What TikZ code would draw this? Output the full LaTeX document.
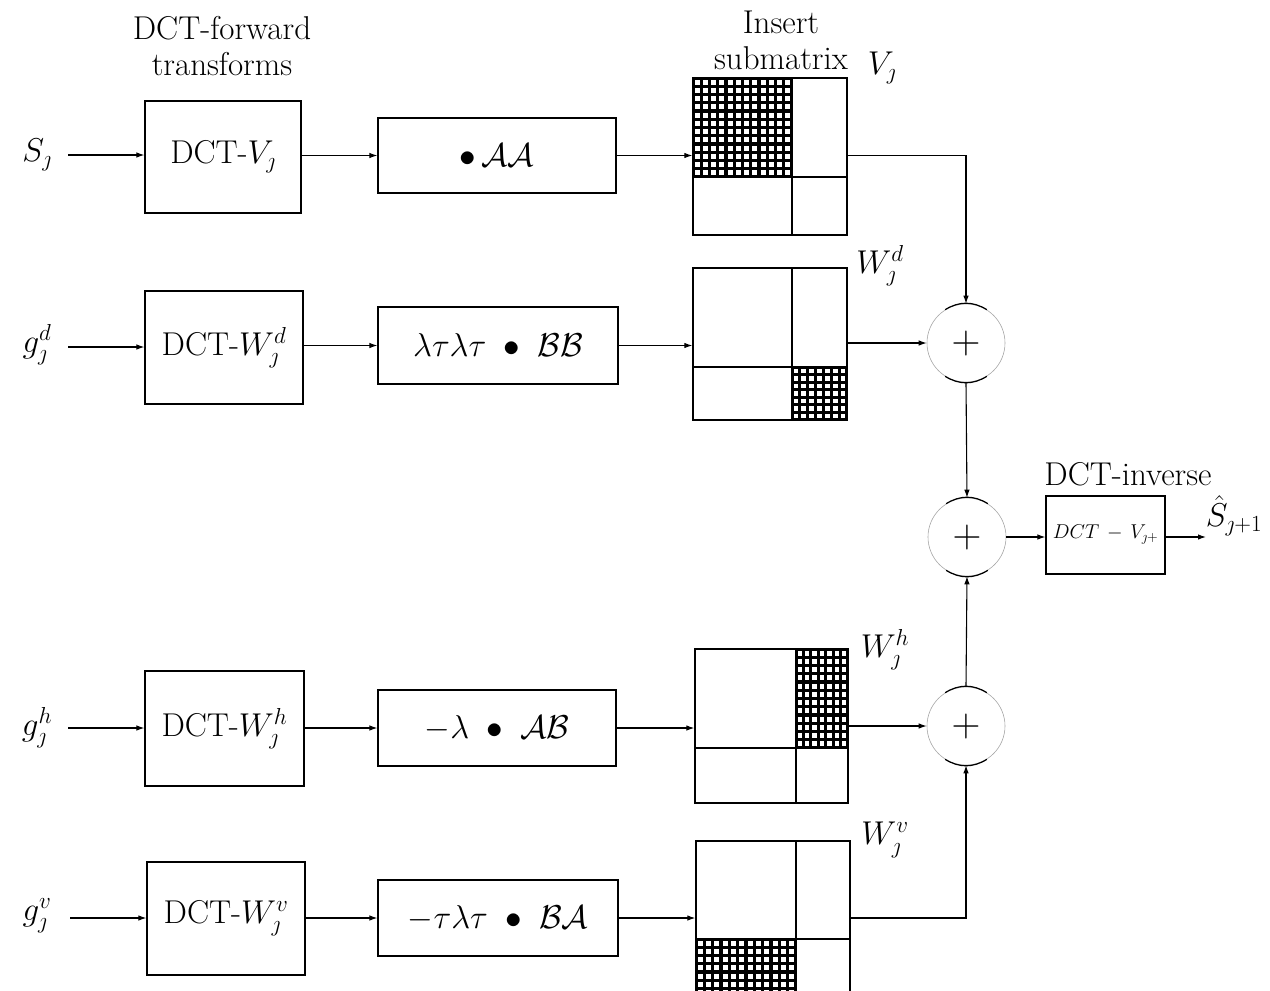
\RequirePackage{fix-cm}
\documentclass[tikz,border=0pt]{standalone}
\usetikzlibrary{arrows.meta}
\newcommand\hatchgrid[6]{%
  \begin{scope}
    \clip (#1,#2) rectangle (#3,#4);
    \foreach \k in {0,...,#5} \draw[line width=3.2pt] ({#1+\k*(#3-#1)/#5},#2) -- ({#1+\k*(#3-#1)/#5},#4);
    \foreach \k in {0,...,#6} \draw[line width=3.2pt] (#1,{#2+\k*(#4-#2)/#6}) -- (#3,{#2+\k*(#4-#2)/#6});
  \end{scope}}
\begin{document}
\begin{tikzpicture}[x=1pt,y=-1pt,
  big/.style={font=\fontsize{33}{38}\selectfont},
  blk/.style={draw,line width=1.2pt,inner sep=0pt,big},
  mat/.style={draw,line width=1.3pt,inner sep=0pt},
  lbl/.style={inner sep=0pt,big},
  sum/.style={circle,draw=black!35,line width=0.6pt,minimum size=78pt,inner sep=0pt,font=\fontsize{40}{42}\selectfont},
  arr/.style={line width=1.1pt,-{Latex[length=8pt,width=5.5pt]}},
  ln/.style={line width=1.1pt}]
\useasboundingbox (0,0) rectangle (1270,991);

% titles
\node[lbl] (t1) at (222,28) {DCT-forward};
\node[lbl] (t2) at (222,64) {transforms};
\node[lbl] (t3) at (781,22) {Insert};
\node[lbl] (t4) at (781,58) {submatrix};
\node[lbl] (t5) at (1128,474) {DCT-inverse};

% input labels
\node[lbl] (s1) at (37,155) {$S_\jmath$};
\node[lbl] (s2) at (37,345) {$g_\jmath^d$};
\node[lbl] (s3) at (37,728) {$g_\jmath^h$};
\node[lbl] (s4) at (37,916) {$g_\jmath^v$};
\coordinate (i1) at (68,155);
\coordinate (i2) at (68,347);
\coordinate (i3) at (68,728);
\coordinate (i4) at (70,918);

% DCT boxes
\node[blk,minimum width=156pt,minimum height=112pt] (d1) at (223,157) {DCT-$V_\jmath$};
\node[blk,minimum width=158pt,minimum height=113pt] (d2) at (224,347.5) {DCT-$W_\jmath^d$};
\node[blk,minimum width=159pt,minimum height=115pt] (d3) at (224.5,728.5) {DCT-$W_\jmath^h$};
\node[blk,minimum width=158pt,minimum height=113pt] (d4) at (226,918.5) {DCT-$W_\jmath^v$};

% operation boxes
\node[blk,minimum width=238pt,minimum height=75pt] (o1) at (497,155.5) {$\bullet\,\mathcal{A}\mathcal{A}$};
\node[blk,minimum width=240pt,minimum height=77pt] (o2) at (498,345.5) {$\lambda\tau\lambda\tau\ \bullet\ \mathcal{B}\mathcal{B}$};
\node[blk,minimum width=238pt,minimum height=76pt] (o3) at (497,728) {$-\lambda\ \bullet\ \mathcal{A}\mathcal{B}$};
\node[blk,minimum width=240pt,minimum height=76pt] (o4) at (498,918) {$-\tau\lambda\tau\ \bullet\ \mathcal{B}\mathcal{A}$};

% matrices with hatched submatrices
\hatchgrid{693}{78}{792}{177}{12}{12}
\hatchgrid{792}{367}{847}{420}{7}{7}
\hatchgrid{796}{649}{848}{748}{7}{12}
\hatchgrid{696}{939}{796}{996.75}{12}{7}
\node[mat,minimum width=154pt,minimum height=157pt] (m1) at (770,156.5) {};
\draw[ln] (792,78) -- (792,235) (693,177) -- (847,177);
\node[mat,minimum width=154pt,minimum height=152pt] (m2) at (770,344) {};
\draw[ln] (792,268) -- (792,420) (693,367) -- (847,367);
\node[mat,minimum width=153pt,minimum height=154pt] (m3) at (771.5,726) {};
\draw[ln] (796,649) -- (796,803) (695,748) -- (848,748);
\node[mat,minimum width=154pt,minimum height=154pt] (m4) at (773,918) {};
\draw[ln] (796,841) -- (796,995) (696,939) -- (850,939);

\node[lbl] (v1) at (882,68) {$V_\jmath$};
\node[lbl] (v2) at (880,266) {$W_\jmath^d$};
\node[lbl] (v3) at (885,650) {$W_\jmath^h$};
\node[lbl] (v4) at (885,840) {$W_\jmath^v$};

% summing junctions
\node[sum] (c1) at (966,343) {$+$};
\node[sum] (c2) at (967,537) {$+$};
\node[sum] (c3) at (966,726) {$+$};
\foreach \c in {c1,c2,c3} {
  \draw[line width=1.2pt] (\c.122) to[bend left=32] (\c.58);
  \draw[line width=1.2pt] (\c.238) to[bend right=32] (\c.302);
}

% inverse box
\node[draw,line width=1.2pt,inner sep=0pt,minimum width=119pt,minimum height=78pt,font=\fontsize{20}{22}\selectfont] (inv) at (1105.5,535) {$DCT\,-\,V_{\jmath+}$};
\coordinate (out) at (1206,537);
\node[lbl] (sh) at (1234,516) {$\hat S_{\jmath+1}$};

% connectors
\draw[arr] (i1) -- (i1 -| d1.west);
\draw[arr] (i2) -- (i2 -| d2.west);
\draw[arr] (i3) -- (i3 -| d3.west);
\draw[arr] (i4) -- (i4 -| d4.west);
\draw[arr] (d1.east |- o1.west) -- (o1.west);
\draw[arr] (d2.east |- o2.west) -- (o2.west);
\draw[arr] (d3.east |- o3.west) -- (o3.west);
\draw[arr] (d4.east |- o4.west) -- (o4.west);
\draw[arr] (o1.east) -- (o1.east -| m1.west);
\draw[arr] (o2.east) -- (o2.east -| m2.west);
\draw[arr] (o3.east) -- (o3.east -| m3.west);
\draw[arr] (o4.east) -- (o4.east -| m4.west);
\draw[arr] (m1.east |- o1.east) -| (c1.north);
\draw[arr] (m2.east |- c1.west) -- (c1.west);
\draw[arr] (c1.south) -- (c2.north);
\draw[arr] (c3.north) -- (c2.south);
\draw[arr] (m3.east |- c3.west) -- (c3.west);
\draw[arr] (m4.east |- o4.east) -| (c3.south);
\draw[arr] (c2.east) -- (inv.west |- c2.east);
\draw[arr] (inv.east |- out) -- (out);
\end{tikzpicture}
\end{document}
